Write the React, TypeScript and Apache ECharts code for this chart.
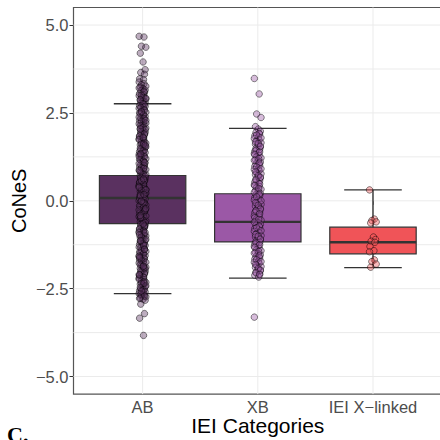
import React, { useEffect, useRef } from "react";
import * as echarts from "echarts";

const categories = ["AB", "XB", "IEI X−linked"];
const boxColors = ["#5A3160", "#9B58A6", "#F05458"];
const pointFills = ["rgba(90,49,96,0.5)", "rgba(155,88,166,0.5)", "rgba(240,84,88,0.5)"];

// [min, q1, median, q3, max]
const abBox = [-2.64, -0.65, 0.08, 0.72, 2.76];
const xbBox = [-2.2, -1.17, -0.6, 0.2, 2.06];
const ieiBox = [-1.9, -1.51, -1.18, -0.75, 0.31];

const abPoints = [
  4.68, 4.66, 4.4, 4.37, 4.2, 3.95, 3.73, 3.65, 3.6, 3.47, 3.45,
  3.38, 3.33, 3.3, 3.26, 3.24, 3.19, 3.15, 3.13, 3.08, 3.05, 3.02, 2.99, 2.95, 2.93, 2.9, 2.86, 2.84, 2.81,
  2.78, 2.74, 2.71, 2.66, 2.63, 2.6, 2.55, 2.52, 2.48, 2.43, 2.4, 2.36, 2.31, 2.28, 2.24, 2.19, 2.16, 2.12,
  2.07, 2.04, 2.0, 1.95, 1.92, 1.88, 1.83, 1.8, 1.76, 1.71, 1.68, 1.64, 1.59, 1.56, 1.52, 1.47, 1.44, 1.4,
  1.35, 1.32, 1.28, 1.23, 1.2, 1.16, 1.11, 1.08, 1.04, 0.99, 0.96, 0.92, 0.87, 0.84, 0.8, 0.75, 0.72, 0.68,
  0.63, 0.6, 0.56, 0.51, 0.48, 0.44, 0.39, 0.36, 0.32, 0.27, 0.24, 0.2, 0.15, 0.12, 0.08, 0.03, 0.0, -0.04,
  -0.09, -0.12, -0.16, -0.21, -0.24, -0.28, -0.33, -0.36, -0.4, -0.45, -0.48, -0.52, -0.57, -0.6, -0.64,
  -0.69, -0.72, -0.76, -0.81, -0.84, -0.88, -0.93, -0.96, -1.0, -1.05, -1.08, -1.12, -1.17, -1.2, -1.24,
  -1.29, -1.32, -1.36, -1.41, -1.44, -1.48, -1.53, -1.56, -1.6, -1.65, -1.68, -1.72, -1.77, -1.8, -1.84,
  -1.89, -1.92, -1.96, -2.01, -2.04, -2.08, -2.13, -2.16, -2.2, -2.25, -2.28, -2.32, -2.37, -2.4, -2.44,
  -2.49, -2.52, -2.56, -2.61, -2.64, -2.67, -2.7, -2.73, -2.76, -2.8, -2.83,
  -2.94, -3.21, -3.34, -3.83,
  3.21, 3.11, 3.0, 2.92, 2.88, 2.76, 2.69, 2.65, 2.58, 2.5, 2.45, 2.38, 2.34, 2.26, 2.21, 2.14, 2.09, 2.02,
  1.97, 1.9, 1.85, 1.78, 1.74, 1.66, 1.62, 1.54, 1.49, 1.42, 1.37, 1.3, 1.25, 1.18, 1.13, 1.06, 1.01, 0.94,
  0.89, 0.82, 0.77, 0.7, 0.65, 0.58, 0.53, 0.46, 0.41, 0.34, 0.29, 0.22, 0.17, 0.1, 0.05, -0.02, -0.07,
  -0.14, -0.19, -0.26, -0.31, -0.38, -0.43, -0.5, -0.55, -0.62, -0.67, -0.74, -0.79, -0.86, -0.91, -0.98,
  -1.03, -1.1, -1.15, -1.22, -1.27, -1.34, -1.39, -1.46, -1.51, -1.58, -1.63, -1.7, -1.75, -1.82, -1.87,
  -1.94, -1.99, -2.06, -2.11, -2.18, -2.23, -2.3, -2.35, -2.42, -2.47, -2.54, -2.59, -2.66, -2.71, -2.78,
  1.61, 1.27, 0.93, 0.57, 0.31, 0.14, -0.06, -0.27, -0.47, -0.71, -0.97, -1.26, -1.57, -1.91,
  2.53, 2.29, 2.05, 1.81, 1.58, 1.34, 1.09, 0.86, 0.62, 0.38, 0.18, -0.01, -0.22, -0.42, -0.66, -0.9,
  -1.13, -1.38, -1.62, -1.86, -2.1, -2.34, -2.57,
];

const xbPoints = [
  3.48, 3.04, 2.47, 2.37, 2.11, 2.04,
  1.98, 1.94, 1.9, 1.85, 1.82, 1.77, 1.73, 1.7, 1.65, 1.61, 1.58, 1.53, 1.49, 1.46, 1.41, 1.37, 1.34, 1.29,
  1.25, 1.22, 1.17, 1.13, 1.1, 1.05, 1.01, 0.98, 0.93, 0.89, 0.86, 0.81, 0.77, 0.74, 0.69, 0.65, 0.62, 0.57,
  0.53, 0.5, 0.45, 0.41, 0.38, 0.33, 0.29, 0.26, 0.21, 0.17, 0.14, 0.09, 0.05, 0.02, -0.03, -0.07, -0.1,
  -0.15, -0.19, -0.22, -0.27, -0.31, -0.34, -0.39, -0.43, -0.46, -0.51, -0.55, -0.58, -0.63, -0.67, -0.7,
  -0.75, -0.79, -0.82, -0.87, -0.91, -0.94, -0.99, -1.03, -1.06, -1.11, -1.15, -1.18, -1.23, -1.27, -1.3,
  -1.35, -1.39, -1.42, -1.47, -1.51, -1.54, -1.59, -1.63, -1.66, -1.71, -1.75, -1.78, -1.83, -1.87, -1.9,
  -1.95, -1.99, -2.03, -2.08, -2.12, -2.17,
  -3.31,
  1.92, 1.87, 1.79, 1.68, 1.63, 1.55, 1.44, 1.39, 1.31, 1.2, 1.15, 1.07, 0.96, 0.91, 0.83, 0.72, 0.67,
  0.59, 0.48, 0.43, 0.35, 0.24, 0.19, 0.11, 0.0, -0.05, -0.13, -0.24, -0.29, -0.37, -0.48, -0.53, -0.61,
  -0.72, -0.77, -0.85, -0.96, -1.01, -1.09, -1.2, -1.25, -1.33, -1.44, -1.49, -1.57, -1.68, -1.73, -1.81,
  -1.92, -1.97, -2.05, -2.1,
];

const ieiPoints = [
  0.31, -0.52, -0.56, -0.6, -0.63, -1.03, -1.1, -1.15, -1.18, -1.3, -1.42, -1.45, -1.68, -1.73, -1.8, -1.89,
];

// fixed horizontal jitter pattern (category units)
const jitterOffsets = [-0.03, 0.012, -0.01, 0.028, -0.02, 0.004, 0.022, -0.016, 0.016, -0.026, 0.008];

const yMajorTicks = [-5, -2.5, 0, 2.5, 5];
const yMinorTicks = [-3.75, -1.25, 1.25, 3.75];
const xTicks = [1, 2, 3];

const FONT = "'Liberation Sans', Arial, sans-serif";

function toPoints(values: number[], catPos: number) {
  return values.map((v, i) => [catPos + jitterOffsets[i % jitterOffsets.length], v]);
}

export default function App() {
  const ref = useRef<HTMLDivElement>(null);

  useEffect(() => {
    if (!ref.current) return;
    const chart = echarts.init(ref.current, null, { renderer: "svg" });

    const gridData = [
      ...xTicks.map((v) => [0, v]),
      ...yMajorTicks.map((v) => [1, v]),
      ...yMinorTicks.map((v) => [1, v]),
    ];

    const boxData = [abBox, xbBox, ieiBox].map((b, i) => [xTicks[i], ...b]);

    const scatterStyle = (i: number) => ({
      type: "scatter",
      z: 5,
      symbol: "circle",
      symbolSize: 6.5,
      itemStyle: {
        color: pointFills[i],
        borderColor: "rgba(0,0,0,0.68)",
        borderWidth: 0.85,
      },
      emphasis: { disabled: true },
      silent: true,
    });

    chart.setOption({
      animation: false,
      grid: {
        left: 73.5,
        top: 7.5,
        width: 368.6,
        height: 386.6,
        show: true,
        borderColor: "#555",
        borderWidth: 1.2,
        backgroundColor: "transparent",
        outerBoundsMode: "none",
        containLabel: false,
      },
      xAxis: {
        type: "value",
        min: 0.4,
        max: 3.6,
        axisLine: { show: false },
        splitLine: { show: false },
        axisTick: {
          show: true,
          customValues: xTicks,
          length: 4,
          lineStyle: { color: "#333", width: 1 },
        },
        axisLabel: {
          customValues: xTicks,
          formatter: (v: number) => categories[Math.round(v) - 1] ?? "",
          color: "#4D4D4D",
          fontSize: 16.5,
          fontFamily: FONT,
          margin: 4,
        },
        name: "IEI Categories",
        nameLocation: "middle",
        nameGap: 21,
        nameMoveOverlap: false,
        nameTextStyle: { fontSize: 21, color: "#000", fontFamily: FONT, verticalAlign: "top" },
      },
      yAxis: {
        type: "value",
        min: -5.5,
        max: 5.5,
        axisLine: { show: false },
        splitLine: { show: false },
        axisTick: {
          show: true,
          customValues: yMajorTicks,
          length: 4,
          lineStyle: { color: "#333", width: 1 },
        },
        axisLabel: {
          customValues: yMajorTicks,
          formatter: (v: number) => (v < 0 ? "−" : "") + Math.abs(v).toFixed(1),
          color: "#4D4D4D",
          fontSize: 16.5,
          fontFamily: FONT,
          margin: 5,
        },
        name: "CoNeS",
        nameLocation: "middle",
        nameGap: 45,
        nameMoveOverlap: false,
        nameRotate: 90,
        nameTextStyle: { fontSize: 20, color: "#000", fontFamily: FONT },
      },
      graphic: [
        {
          type: "text",
          left: 7,
          top: 423,
          style: {
            text: "C.",
            font: "bold 22px 'Liberation Serif', 'DejaVu Serif', serif",
            fill: "#000",
          },
        },
      ],
      series: [
        {
          type: "custom",
          z: 1,
          silent: true,
          clip: false,
          data: gridData,
          renderItem: (params: any, api: any) => {
            const kind = api.value(0);
            const v = api.value(1);
            const cs = params.coordSys;
            if (kind === 0) {
              const p = api.coord([v, 0]);
              return {
                type: "line",
                shape: { x1: p[0], y1: cs.y, x2: p[0], y2: cs.y + cs.height },
                style: { stroke: "#EBEBEB", lineWidth: 1 },
              };
            }
            const p = api.coord([1, v]);
            return {
              type: "line",
              shape: { x1: cs.x, y1: p[1], x2: cs.x + cs.width, y2: p[1] },
              style: { stroke: "#EBEBEB", lineWidth: 1 },
            };
          },
        },
        {
          type: "custom",
          z: 2,
          silent: true,
          data: boxData,
          encode: { x: 0, y: [1, 2, 3, 4, 5] },
          renderItem: (params: any, api: any) => {
            const x = api.value(0);
            const pMin = api.coord([x, api.value(1)]);
            const pQ1 = api.coord([x, api.value(2)]);
            const pMed = api.coord([x, api.value(3)]);
            const pQ3 = api.coord([x, api.value(4)]);
            const pMax = api.coord([x, api.value(5)]);
            const boxHalf = api.size([0.75, 0])[0] / 2;
            const capHalf = api.size([0.5, 0])[0] / 2;
            const cx = pMin[0];
            const stroke = "#333333";
            return {
              type: "group",
              children: [
                {
                  type: "line",
                  shape: { x1: cx, y1: pMax[1], x2: cx, y2: pMin[1] },
                  style: { stroke, lineWidth: 1.4 },
                },
                {
                  type: "line",
                  shape: { x1: cx - capHalf, y1: pMax[1], x2: cx + capHalf, y2: pMax[1] },
                  style: { stroke, lineWidth: 1.4 },
                },
                {
                  type: "line",
                  shape: { x1: cx - capHalf, y1: pMin[1], x2: cx + capHalf, y2: pMin[1] },
                  style: { stroke, lineWidth: 1.4 },
                },
                {
                  type: "rect",
                  shape: {
                    x: cx - boxHalf,
                    y: pQ3[1],
                    width: boxHalf * 2,
                    height: pQ1[1] - pQ3[1],
                  },
                  style: { fill: boxColors[params.dataIndex], stroke, lineWidth: 1.2 },
                },
                {
                  type: "line",
                  shape: { x1: cx - boxHalf, y1: pMed[1], x2: cx + boxHalf, y2: pMed[1] },
                  style: { stroke, lineWidth: 2.4 },
                },
              ],
            };
          },
        },
        { ...scatterStyle(0), data: toPoints(abPoints, xTicks[0]) },
        { ...scatterStyle(1), data: toPoints(xbPoints, xTicks[1]) },
        { ...scatterStyle(2), data: toPoints(ieiPoints, xTicks[2]) },
      ],
    } as any);

    return () => chart.dispose();
  }, []);

  return (
    <div
      ref={ref}
      style={{ position: "absolute", left: 0, top: 0, width: 440, height: 440 }}
    />
  );
}
